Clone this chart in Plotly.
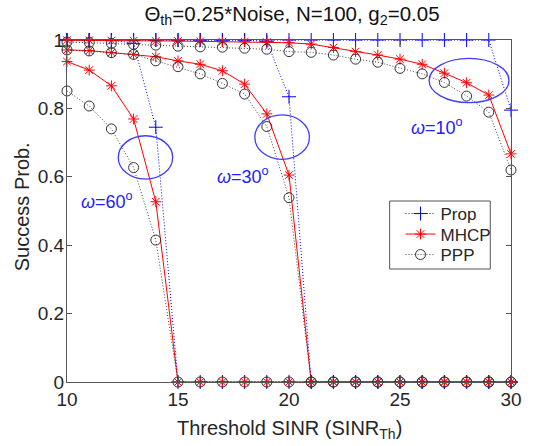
import plotly.graph_objects as go

# ---------------- data ----------------
sinr_th = list(range(10, 31))

prop_w10 = [1.0] * 20 + [0.795]
prop_w30 = [1.0] * 9 + [0.995, 0.834] + [0.0] * 10
prop_w60 = [1.0, 1.0, 1.0, 0.990, 0.745] + [0.0] * 16

mhcp_w10 = [0.999, 0.999, 0.998, 0.998, 0.997, 0.997, 0.996, 0.995, 0.995, 0.994,
            0.992, 0.988, 0.978, 0.966, 0.956, 0.944, 0.929, 0.903, 0.875, 0.839, 0.667]
mhcp_w30 = [0.971, 0.969, 0.963, 0.958, 0.951, 0.939, 0.929, 0.910, 0.871, 0.784, 0.605] + [0.0] * 10
mhcp_w60 = [0.937, 0.912, 0.866, 0.769, 0.527] + [0.0] * 16

ppp_w10 = [0.994, 0.993, 0.990, 0.987, 0.985, 0.982, 0.980, 0.979, 0.976, 0.973,
           0.966, 0.964, 0.956, 0.944, 0.935, 0.917, 0.901, 0.876, 0.836, 0.789, 0.620]
ppp_w30 = [0.971, 0.968, 0.963, 0.958, 0.939, 0.922, 0.901, 0.873, 0.842, 0.747, 0.539] + [0.0] * 10
ppp_w60 = [0.851, 0.807, 0.740, 0.627, 0.415] + [0.0] * 16

x_ticks = [10, 15, 20, 25, 30]
y_ticks = [0, 0.2, 0.4, 0.6, 0.8, 1]
y_tick_labels = ["0", "0.2", "0.4", "0.6", "0.8", "1"]

# ---------------- figure ----------------
FONT = "Liberation Sans, Arial, Helvetica, sans-serif"
fig = go.Figure()

styles = {
    "Prop": dict(line=dict(color="#0000ff", width=1, dash="1px,2px"),
                 marker=dict(symbol="cross-thin-open", size=10, color="#0000ff",
                             line=dict(color="#0000ff", width=1))),
    "MHCP": dict(line=dict(color="#ff0000", width=1),
                 marker=dict(symbol="asterisk-open", size=9, color="#ff0000",
                             line=dict(color="#ff0000", width=1))),
    "PPP": dict(line=dict(color="#444444", width=1, dash="1px,2px"),
                marker=dict(symbol="circle-open", size=10, color="#333333",
                            line=dict(color="#333333", width=1))),
}

series = [
    ("Prop", [prop_w10, prop_w30, prop_w60], "legend"),
    ("MHCP", [mhcp_w10, mhcp_w30, mhcp_w60], "legend2"),
    ("PPP", [ppp_w10, ppp_w30, ppp_w60], "legend3"),
]

for name, curves, lg in series:
    for i, yv in enumerate(curves):
        fig.add_trace(go.Scatter(
            x=sinr_th, y=yv, mode="lines+markers", name=name,
            legendgroup=name, showlegend=(i == 0), legend=lg, cliponaxis=False,
            **styles[name]))

ell_color = "rgb(60,60,255)"
for (x0, x1, y0, y1) in [(12.31, 14.76, 0.593, 0.720),
                         (18.46, 20.92, 0.651, 0.781),
                         (26.31, 29.91, 0.817, 0.946)]:
    fig.add_shape(type="circle", xref="x", yref="y", x0=x0, x1=x1, y0=y0, y1=y1,
                  line=dict(color=ell_color, width=1.3))

for (lx, ly, deg) in [(11.78, 0.532, 60), (17.91, 0.605, 30), (26.65, 0.747, 10)]:
    fig.add_annotation(x=lx, y=ly, xref="x", yref="y", showarrow=False,
                       text="<i>ω</i>=%d<sup>o</sup>" % deg,
                       font=dict(family=FONT, size=18, color="#2020ff"))

axis_common = dict(showline=True, linecolor="#555555", linewidth=1, mirror="ticks",
                   ticks="inside", ticklen=5, tickcolor="#555555", showgrid=False,
                   zeroline=False, tickfont=dict(family=FONT, size=19, color="#262626"))

fig.update_xaxes(range=[10, 30], tickvals=x_ticks, **axis_common)
fig.update_yaxes(range=[0, 1], tickvals=y_ticks, ticktext=y_tick_labels,
                 ticklabelstandoff=-2, **axis_common)

fig.add_annotation(xref="paper", yref="paper", x=0.5, y=-0.097, yanchor="top",
                   showarrow=False, text="Threshold SINR (SINR<sub>Th</sub>)",
                   font=dict(family=FONT, size=20, color="#262626"))
fig.add_annotation(xref="paper", yref="paper", x=-0.102, y=0.513, xanchor="center",
                   textangle=-90, showarrow=False, text="Success Prob.",
                   font=dict(family=FONT, size=20, color="#262626"))

# legend frame (pixel box 394..496 x 201..269 within 67..517 x 40..382 plot area)
fig.add_shape(type="rect", xref="paper", yref="paper",
              x0=(394 - 67) / 450, x1=(496 - 67) / 450,
              y0=(382 - 269) / 342, y1=(382 - 201) / 342,
              line=dict(color="#555555", width=1), fillcolor="white", layer="above")

leg_common = dict(xanchor="left", yanchor="middle", bgcolor="rgba(0,0,0,0)",
                  borderwidth=0, font=dict(family=FONT, size=17, color="#262626"),
                  itemwidth=30)
leg_x = (405 - 67) / 450
fig.update_layout(
    legend=dict(x=leg_x, y=(382 - 214) / 342, **leg_common),
    legend2=dict(x=leg_x, y=(382 - 234.5) / 342, **leg_common),
    legend3=dict(x=leg_x, y=(382 - 255) / 342, **leg_common),
)

fig.update_layout(
    width=534, height=446,
    margin=dict(l=67, r=17, t=40, b=64),
    paper_bgcolor="white", plot_bgcolor="white",
    title=dict(text="Θ<sub>th</sub>=0.25*Noise, N=100, g<sub>2</sub>=0.05",
               x=(67 + 517) / 2 / 534, xanchor="center",
               y=1 - 14 / 446, yanchor="middle", yref="container",
               font=dict(family=FONT, size=20.5, color="#111111")),
    showlegend=True,
)

fig.write_html("out.html", config={"displayModeBar": False},
               post_script="document.body.style.margin='0';document.body.style.padding='0';document.body.style.overflow='hidden';")
